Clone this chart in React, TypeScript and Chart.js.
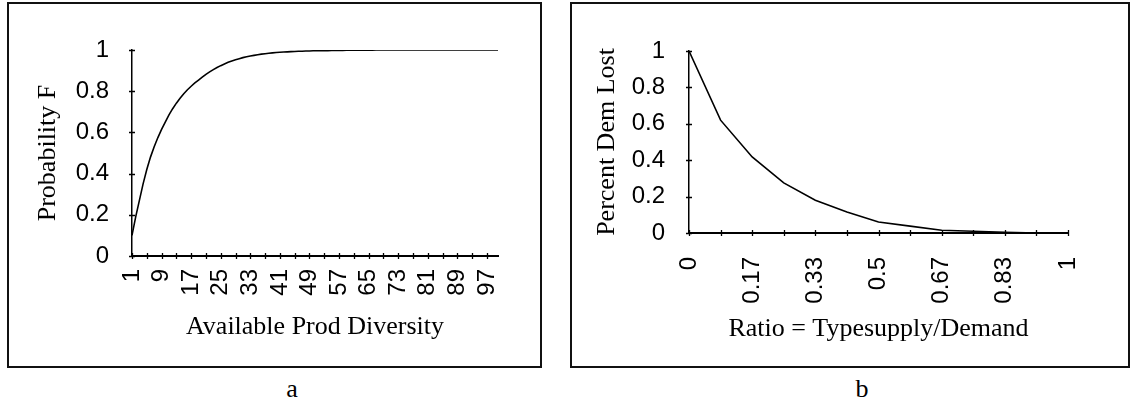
import { useEffect, useRef } from "react";
import { Chart, registerables } from "chart.js";

Chart.register(...registerables);

// Panel a: probability F against available product diversity (1..100)
const diversityLabels: string[] = Array.from({ length: 100 }, (_, i) => String(i + 1));
const probabilityF: number[] = [
  0.1, 0.19, 0.27, 0.35, 0.42, 0.48, 0.53, 0.575, 0.615, 0.65,
  0.685, 0.715, 0.742, 0.766, 0.788, 0.807, 0.824, 0.84, 0.854, 0.868,
  0.882, 0.894, 0.905, 0.915, 0.924, 0.932, 0.94, 0.947, 0.953, 0.958,
  0.963, 0.967, 0.971, 0.974, 0.977, 0.98, 0.982, 0.984, 0.986, 0.988,
  0.989, 0.99, 0.991, 0.992, 0.993, 0.994, 0.994, 0.995, 0.995, 0.996,
  0.996, 0.997, 0.997, 0.997, 0.998, 0.998, 0.998, 0.998, 0.999, 0.999,
  0.999, 0.999, 0.999, 0.999, 0.999, 0.999, 1, 1, 1, 1,
  1, 1, 1, 1, 1, 1, 1, 1, 1, 1,
  1, 1, 1, 1, 1, 1, 1, 1, 1, 1,
  1, 1, 1, 1, 1, 1, 1, 1, 1, 1,
];

// Panel b: share of demand lost against the type-supply / demand ratio
const ratioLabels: string[] = [
  "0", "0.08", "0.17", "0.25", "0.33", "0.42", "0.5",
  "0.58", "0.67", "0.75", "0.83", "0.92", "1",
];
const percentDemLost: number[] = [
  1, 0.62, 0.418, 0.275, 0.18, 0.115, 0.06, 0.038, 0.015, 0.01, 0.004, 0, 0,
];

// Shared value axis ticks for both panels
const yTickValues: number[] = [0, 0.2, 0.4, 0.6, 0.8, 1];

const TICK_FONT = { family: "'Liberation Sans', Arial, sans-serif", size: 24 };
const TITLE_FONT = { family: "'Liberation Serif', 'Times New Roman', serif", size: 26 };

// Short tick marks that cross both axis lines
const crossTicks = {
  id: "crossTicks",
  afterDatasetsDraw(chart: any, _args: any, opts: any) {
    const { ctx } = chart;
    const xs = chart.scales.x;
    const ys = chart.scales.y;
    const step = opts.xStep || 1;
    ctx.save();
    ctx.strokeStyle = "#000";
    ctx.lineWidth = 1.3;
    ctx.beginPath();
    xs.ticks.forEach((_t: any, i: number) => {
      if (i % step !== 0) return;
      const px = Math.round(xs.getPixelForTick(i)) + 0.5;
      ctx.moveTo(px, xs.top - 3);
      ctx.lineTo(px, xs.top + 3);
    });
    ys.ticks.forEach((_t: any, i: number) => {
      const py = Math.round(ys.getPixelForTick(i)) + 0.5;
      ctx.moveTo(ys.right - 3, py);
      ctx.lineTo(ys.right + 3, py);
    });
    ctx.stroke();
    ctx.restore();
  },
};

type PanelSpec = {
  labels: string[];
  values: number[];
  xTitle: string;
  yTitle: string;
  labelEvery: number;
  tickEvery: number;
  yWidth: number;
  xHeight: number;
  yTitlePad: number;
  xTitlePad: number;
  yTickPad: number;
  xTickPad: number;
  padTop: number;
  padRight: number;
};

function Panel({ spec, width, height }: { spec: PanelSpec; width: number; height: number }) {
  const ref = useRef<HTMLCanvasElement | null>(null);

  useEffect(() => {
    if (!ref.current) return;
    const chart = new Chart(ref.current, {
      type: "line",
      data: {
        labels: spec.labels,
        datasets: [
          {
            data: spec.values,
            borderColor: "#000",
            borderWidth: 1.6,
            pointRadius: 0,
            tension: 0,
            fill: false,
          },
        ],
      },
      plugins: [crossTicks],
      options: {
        animation: false,
        responsive: false,
        maintainAspectRatio: false,
        layout: { padding: { top: spec.padTop, right: spec.padRight, left: 0, bottom: 0 } },
        plugins: {
          legend: { display: false },
          tooltip: { enabled: false },
          crossTicks: { xStep: spec.tickEvery },
        } as any,
        scales: {
          x: {
            type: "category",
            offset: false,
            grid: { display: false },
            border: { display: true, color: "#000", width: 2 },
            ticks: {
              autoSkip: false,
              minRotation: 90,
              maxRotation: 90,
              padding: spec.xTickPad,
              color: "#000",
              font: TICK_FONT,
              callback: (_v: any, i: number) => (i % spec.labelEvery === 0 ? spec.labels[i] : ""),
            },
            title: {
              display: true,
              text: spec.xTitle,
              color: "#000",
              font: TITLE_FONT,
              padding: { top: 0, bottom: spec.xTitlePad },
            },
            afterFit: (s: any) => {
              s.height = spec.xHeight;
            },
          },
          y: {
            min: 0,
            max: 1,
            grid: { display: false },
            border: { display: true, color: "#000", width: 1.5 },
            afterBuildTicks: (s: any) => {
              s.ticks = yTickValues.map((value) => ({ value }));
            },
            ticks: {
              padding: spec.yTickPad,
              color: "#000",
              font: TICK_FONT,
              callback: (v: any) => String(Number(Number(v).toFixed(1))),
            },
            title: {
              display: true,
              text: spec.yTitle,
              color: "#000",
              font: TITLE_FONT,
              padding: { top: spec.yTitlePad, bottom: 0 },
            },
            afterFit: (s: any) => {
              s.width = spec.yWidth;
            },
          },
        },
      } as any,
    });
    return () => chart.destroy();
  }, [spec]);

  return <canvas ref={ref} width={width} height={height} style={{ display: "block", width, height }} />;
}

const panelA: PanelSpec = {
  labels: diversityLabels,
  values: probabilityF,
  xTitle: "Available Prod Diversity",
  yTitle: "Probability F",
  labelEvery: 8,
  tickEvery: 4,
  yWidth: 123,
  xHeight: 110,
  yTitlePad: 24,
  xTitlePad: 23,
  yTickPad: 15,
  xTickPad: 5,
  padTop: 46,
  padRight: 42,
};

const panelB: PanelSpec = {
  labels: ratioLabels,
  values: percentDemLost,
  xTitle: "Ratio = Typesupply/Demand",
  yTitle: "Percent Dem Lost",
  labelEvery: 2,
  tickEvery: 1,
  yWidth: 117,
  xHeight: 133,
  yTitlePad: 20,
  xTitlePad: 21,
  yTickPad: 16,
  xTickPad: 16,
  padTop: 47,
  padRight: 60,
};

const boxStyle = (left: number, width: number): React.CSSProperties => ({
  position: "absolute",
  left,
  top: 2,
  width,
  height: 366,
  boxSizing: "border-box",
  border: "2px solid #111",
  background: "#fff",
});

const captionStyle = (cx: number): React.CSSProperties => ({
  position: "absolute",
  left: cx - 20,
  top: 374,
  width: 40,
  textAlign: "center",
  fontFamily: "'Liberation Serif', 'Times New Roman', serif",
  fontSize: 26,
  lineHeight: "30px",
  color: "#000",
});

export default function App() {
  return (
    <div
      style={{
        position: "absolute",
        left: 0,
        top: 0,
        width: 1133,
        height: 404,
        background: "#fff",
        overflow: "hidden",
      }}
    >
      <div style={boxStyle(7, 535)}>
        <div style={{ position: "absolute", left: 0, top: 0 }}>
          <Panel spec={panelA} width={531} height={362} />
        </div>
      </div>
      <div style={boxStyle(570, 560)}>
        <div style={{ position: "absolute", left: 0, top: 0 }}>
          <Panel spec={panelB} width={556} height={362} />
        </div>
      </div>
      <div style={captionStyle(292)}>a</div>
      <div style={captionStyle(862)}>b</div>
    </div>
  );
}
